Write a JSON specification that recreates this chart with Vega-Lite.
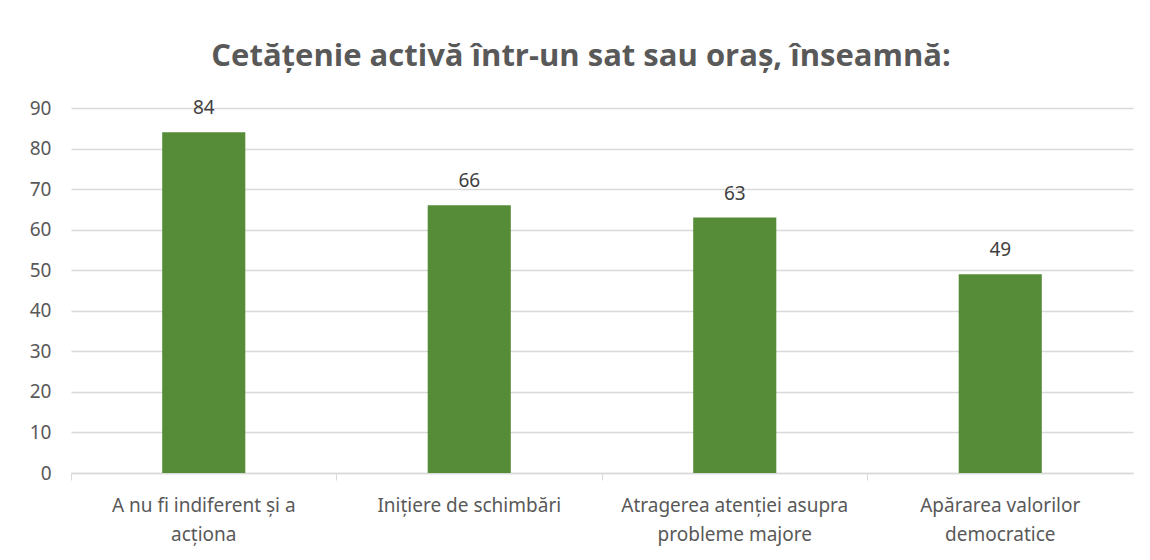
{
  "$schema": "https://vega.github.io/schema/vega-lite/v6.json",
  "width": 1062,
  "height": 365,
  "padding": {"left": 29, "top": 41, "right": 13, "bottom": 5},
  "background": "white",
  "title": {
    "text": "Cetățenie activă într-un sat sau oraș, înseamnă:",
    "font": "Open Sans",
    "fontSize": 31,
    "fontWeight": "bold",
    "color": "#595959",
    "anchor": "middle",
    "frame": "bounds",
    "offset": 26
  },
  "data": {
    "values": [
      {"categorie": "A nu fi indiferent și a|acționa", "valoare": 84, "ordine": 1},
      {"categorie": "Inițiere de schimbări", "valoare": 66, "ordine": 2},
      {"categorie": "Atragerea atenției  asupra|probleme majore", "valoare": 63, "ordine": 3},
      {"categorie": "Apărarea valorilor|democratice", "valoare": 49, "ordine": 4}
    ]
  },
  "encoding": {
    "x": {
      "field": "categorie",
      "type": "nominal",
      "sort": {"field": "ordine"},
      "scale": {"paddingInner": 0, "paddingOuter": 0},
      "axis": {
        "title": null,
        "labelAngle": 0,
        "labelExpr": "split(datum.label, '|')",
        "labelFont": "Noto Sans",
        "labelFontSize": 19,
        "labelColor": "#595959",
        "labelLineHeight": 29,
        "labelLimit": 0,
        "labelPadding": 16,
        "labelBaseline": "top",
        "bandPosition": 0,
        "tickColor": "#d9d9d9",
        "tickSize": 7,
        "domainColor": "#d9d9d9",
        "domainWidth": 1.5,
        "grid": false
      }
    },
    "y": {
      "field": "valoare",
      "type": "quantitative",
      "scale": {"domain": [0, 90]},
      "axis": {
        "title": null,
        "values": [0, 10, 20, 30, 40, 50, 60, 70, 80, 90],
        "labelFont": "Noto Sans",
        "labelFontSize": 19,
        "labelColor": "#595959",
        "labelPadding": 20,
        "ticks": false,
        "domain": false,
        "gridColor": "#d9d9d9",
        "gridWidth": 1.5
      }
    }
  },
  "layer": [
    {
      "mark": {"type": "bar", "color": "#568B37", "width": {"band": 0.313}}
    },
    {
      "mark": {
        "type": "text",
        "font": "Noto Sans",
        "fontSize": 19,
        "color": "#404040",
        "baseline": "middle",
        "dy": -24
      },
      "encoding": {"text": {"field": "valoare", "type": "quantitative"}}
    }
  ],
  "config": {"view": {"stroke": null}}
}
